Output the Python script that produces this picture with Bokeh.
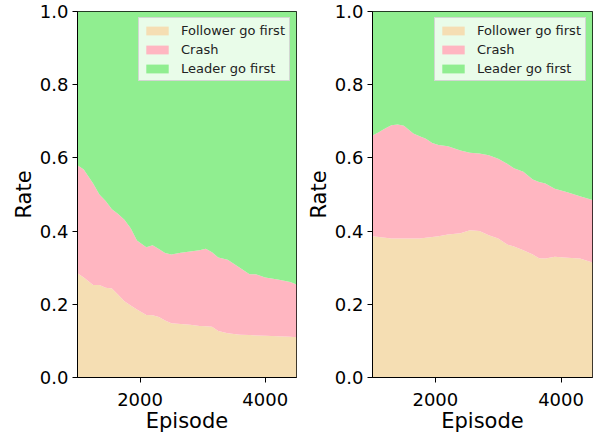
from bokeh.plotting import figure
from bokeh.layouts import row
from bokeh.models import FixedTicker, Range1d, Legend, LegendItem, CustomJSTickFormatter
from bokeh.embed import file_html
from bokeh.resources import INLINE

# ---- data ----
series_names = ["Follower go first", "Crash", "Leader go first"]
colors = ["#F5DEB3", "#FFB6C1", "#90EE90"]

left_episode = [1000, 1100, 1250, 1350, 1450, 1550, 1650, 1750, 1850, 1950, 2100, 2200, 2300, 2400,
                2500, 2650, 2800, 2950, 3050, 3150, 3250, 3400, 3600, 3750, 3850, 4000, 4200, 4400, 4500]
left_follower = [0.285, 0.273, 0.253, 0.253, 0.245, 0.243, 0.226, 0.208, 0.197, 0.186, 0.171, 0.170, 0.165, 0.156,
                 0.148, 0.146, 0.144, 0.141, 0.140, 0.139, 0.127, 0.121, 0.117, 0.116, 0.115, 0.114, 0.113, 0.111, 0.110]
left_crash_upper = [0.580, 0.568, 0.530, 0.500, 0.482, 0.460, 0.447, 0.431, 0.408, 0.374, 0.356, 0.361, 0.351, 0.340,
                    0.336, 0.341, 0.344, 0.348, 0.352, 0.342, 0.328, 0.322, 0.299, 0.282, 0.282, 0.273, 0.268, 0.261, 0.254]

right_episode = [1000, 1100, 1200, 1300, 1400, 1500, 1650, 1750, 1850, 1950, 2050, 2200, 2400, 2550,
                 2700, 2850, 3000, 3150, 3250, 3400, 3550, 3650, 3750, 3900, 4100, 4300, 4500]
right_follower = [0.386, 0.384, 0.382, 0.380, 0.380, 0.380, 0.380, 0.380, 0.382, 0.384, 0.386, 0.391, 0.394, 0.402,
                  0.400, 0.389, 0.380, 0.363, 0.358, 0.348, 0.336, 0.326, 0.325, 0.330, 0.327, 0.325, 0.314]
right_crash_upper = [0.661, 0.670, 0.680, 0.689, 0.691, 0.688, 0.667, 0.659, 0.652, 0.641, 0.635, 0.632, 0.620, 0.614,
                     0.612, 0.607, 0.598, 0.583, 0.572, 0.562, 0.541, 0.534, 0.530, 0.516, 0.506, 0.495, 0.485]

x_ticks = [2000, 4000]
y_ticks = [0.0, 0.2, 0.4, 0.6, 0.8, 1.0]

FONT = "DejaVu Sans"


def make_panel(xs, follower, crash_upper, frame_w, border_left, border_right):
    p = figure(frame_width=frame_w, frame_height=366, output_backend="svg", toolbar_location=None,
               x_range=Range1d(1000, 4500), y_range=Range1d(0, 1),
               min_border_left=border_left, min_border_right=border_right,
               min_border_top=11, min_border_bottom=2)
    p.xgrid.visible = False
    p.ygrid.visible = False
    p.outline_line_color = "black"
    p.outline_line_width = 1
    p.outline_line_alpha = 1
    p.background_fill_color = "white"

    r1 = p.varea(x=xs, y1=[0] * len(xs), y2=follower, fill_color=colors[0])
    r2 = p.varea(x=xs, y1=follower, y2=crash_upper, fill_color=colors[1])
    r3 = p.varea(x=xs, y1=crash_upper, y2=[1] * len(xs), fill_color=colors[2])

    for ax in (p.xaxis[0], p.yaxis[0]):
        ax.major_label_text_font = FONT
        ax.major_label_text_font_size = "18px"
        ax.major_label_text_color = "black"
        ax.axis_label_text_font = FONT
        ax.axis_label_text_font_size = "21px"
        ax.axis_label_text_font_style = "normal"
        ax.axis_label_text_color = "black"
        ax.minor_tick_line_color = None
        ax.major_tick_out = 5
        ax.major_tick_in = 0
        ax.axis_line_color = "black"
        ax.major_tick_line_color = "black"
    p.xaxis.ticker = FixedTicker(ticks=x_ticks)
    p.yaxis.ticker = FixedTicker(ticks=y_ticks)
    p.yaxis.formatter = CustomJSTickFormatter(code="return tick.toFixed(1);")
    p.xaxis.axis_label = "Episode"
    p.yaxis.axis_label = "Rate"
    p.xaxis.major_label_standoff = 10
    p.yaxis.major_label_standoff = 4
    p.xaxis.axis_label_standoff = 0
    p.yaxis.axis_label_standoff = 1

    legend = Legend(items=[LegendItem(label=series_names[0], renderers=[r1]),
                           LegendItem(label=series_names[1], renderers=[r2]),
                           LegendItem(label=series_names[2], renderers=[r3])],
                    location="top_right")
    legend.label_text_font = FONT
    legend.label_text_font_size = "13px"
    legend.label_text_color = "#222222"
    legend.glyph_width = 28
    legend.glyph_height = 11
    legend.label_height = 16
    legend.label_standoff = 10
    legend.spacing = 3
    legend.padding = 4
    legend.margin = 6
    legend.background_fill_color = "white"
    legend.background_fill_alpha = 0.8
    legend.border_line_color = "#cccccc"
    legend.border_line_alpha = 0.8
    p.add_layout(legend)
    return p


left = make_panel(left_episode, left_follower, left_crash_upper, 219, 77, 3)
right = make_panel(right_episode, right_follower, right_crash_upper, 220, 73, 1)

layout = row(left, right, spacing=0)
open("out.html", "w").write(file_html(layout, INLINE))
